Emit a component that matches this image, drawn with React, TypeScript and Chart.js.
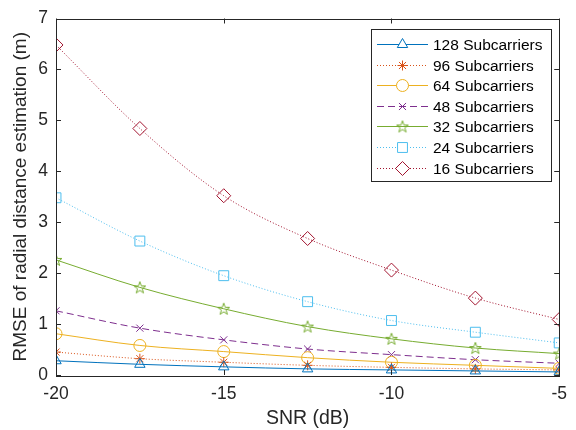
import React, { useEffect, useRef } from 'react';
import { Chart, registerables } from 'chart.js';
import { drawPoint } from 'chart.js/helpers';

Chart.register(...registerables);

const snr = [-20, -17.5, -15, -12.5, -10, -7.5, -5];
const sub128 = [0.28, 0.21, 0.16, 0.12, 0.10, 0.08, 0.06];
const sub96 = [0.45, 0.32, 0.25, 0.19, 0.15, 0.12, 0.10];
const sub64 = [0.81, 0.58, 0.46, 0.34, 0.25, 0.19, 0.13];
const sub48 = [1.26, 0.92, 0.69, 0.51, 0.40, 0.30, 0.23];
const sub32 = [2.26, 1.72, 1.30, 0.95, 0.71, 0.53, 0.42];
const sub24 = [3.48, 2.63, 1.95, 1.44, 1.07, 0.84, 0.63];
const sub16 = [6.48, 4.84, 3.52, 2.68, 2.06, 1.51, 1.09];
const seriesLabels = [
  '128 Subcarriers',
  '96 Subcarriers',
  '64 Subcarriers',
  '48 Subcarriers',
  '32 Subcarriers',
  '24 Subcarriers',
  '16 Subcarriers',
];
const xTicks = [-20, -15, -10, -5];
const yTicks = [0, 1, 2, 3, 4, 5, 6, 7];
const xTitle = 'SNR (dB)';
const yTitle = 'RMSE of radial distance estimation (m)';

const FONT = '"Liberation Sans", Arial, Helvetica, sans-serif';

function makePentagram(color: string, size: number) {
  const c = document.createElement('canvas');
  c.width = size;
  c.height = size;
  const ctx = c.getContext('2d')!;
  const cx = size / 2;
  const cy = size / 2 + 0.5;
  const R = size / 2 - 0.8;
  const r = R * 0.4;
  ctx.beginPath();
  for (let i = 0; i < 10; i++) {
    const rad = i % 2 === 0 ? R : r;
    const a = -Math.PI / 2 + (i * Math.PI) / 5;
    const px = cx + rad * Math.cos(a);
    const py = cy + rad * Math.sin(a);
    if (i === 0) ctx.moveTo(px, py);
    else ctx.lineTo(px, py);
  }
  ctx.closePath();
  ctx.strokeStyle = color;
  ctx.lineWidth = 1;
  ctx.stroke();
  return c;
}

export default function App() {
  const ref = useRef<HTMLCanvasElement | null>(null);

  useEffect(() => {
    if (!ref.current) return;
    const star = makePentagram('#77AC30', 14);
    const styles = [
      { color: '#0072BD', dash: [] as number[], point: 'triangle' as any, radius: 6 },
      { color: '#D95319', dash: [1, 2], point: 'star' as any, radius: 5 },
      { color: '#EDB120', dash: [], point: 'circle' as any, radius: 6 },
      { color: '#7E2F8E', dash: [7, 4], point: 'crossRot' as any, radius: 5 },
      { color: '#77AC30', dash: [], point: star as any, radius: 7 },
      { color: '#4DBEEE', dash: [1, 2], point: 'rect' as any, radius: 7 },
      { color: '#A2142F', dash: [1, 2], point: 'rectRot' as any, radius: 7 },
    ];
    const values = [sub128, sub96, sub64, sub48, sub32, sub24, sub16];
    const datasets = values.map((vals, i) => ({
      label: seriesLabels[i],
      data: snr.map((x, j) => ({ x, y: vals[j] })),
      borderColor: styles[i].color,
      backgroundColor: 'rgba(0,0,0,0)',
      borderWidth: 1,
      borderDash: styles[i].dash,
      pointStyle: styles[i].point,
      pointRadius: styles[i].radius,
      pointBorderColor: styles[i].color,
      pointBackgroundColor: 'rgba(0,0,0,0)',
      pointBorderWidth: 1,
      cubicInterpolationMode: 'monotone' as const,
      fill: false,
    }));

    const framePlugin = {
      id: 'frame',
      afterDraw(chart: any) {
        const ctx = chart.ctx;
        const { left, right, top, bottom } = chart.chartArea;
        const xs = chart.scales.x;
        const ys = chart.scales.y;
        ctx.save();
        ctx.strokeStyle = '#262626';
        ctx.lineWidth = 1;
        ctx.strokeRect(Math.round(left) + 0.5, Math.round(top) + 0.5, Math.round(right - left), Math.round(bottom - top));
        ctx.beginPath();
        xTicks.forEach((v) => {
          const px = Math.round(xs.getPixelForValue(v)) + 0.5;
          ctx.moveTo(px, bottom);
          ctx.lineTo(px, bottom - 5);
          ctx.moveTo(px, top);
          ctx.lineTo(px, top + 5);
        });
        yTicks.forEach((v) => {
          const py = Math.round(ys.getPixelForValue(v)) + 0.5;
          ctx.moveTo(left, py);
          ctx.lineTo(left + 5, py);
          ctx.moveTo(right, py);
          ctx.lineTo(right - 5, py);
        });
        ctx.stroke();

        // legend
        const bx = 371, by = 29, bw = 180, bh = 152;
        ctx.fillStyle = '#ffffff';
        ctx.fillRect(bx, by, bw, bh);
        ctx.strokeStyle = '#262626';
        ctx.strokeRect(bx + 0.5, by + 0.5, bw, bh);
        ctx.font = '15.5px ' + FONT;
        ctx.textBaseline = 'middle';
        ctx.textAlign = 'left';
        styles.forEach((s, i) => {
          const ry = Math.round(44 + i * 20.6) + 0.5;
          ctx.save();
          ctx.strokeStyle = s.color;
          ctx.lineWidth = 1;
          ctx.setLineDash(s.dash);
          ctx.beginPath();
          ctx.moveTo(377, ry);
          ctx.lineTo(428, ry);
          ctx.stroke();
          ctx.setLineDash([]);
          ctx.fillStyle = '#ffffff';
          ctx.strokeStyle = s.color;
          drawPoint(ctx, { pointStyle: s.point, radius: s.radius, borderWidth: 1, rotation: 0 } as any, 402.5, ry);
          ctx.restore();
          ctx.fillStyle = '#000000';
          ctx.fillText(seriesLabels[i], 433, ry + 1);
        });
        ctx.restore();
      },
    };

    const chart = new Chart(ref.current, {
      type: 'line',
      data: { datasets: datasets as any },
      options: {
        animation: false,
        responsive: false,
        layout: { padding: { top: 14, right: 7, left: 0, bottom: 0 } },
        plugins: { legend: { display: false }, tooltip: { enabled: false } },
        scales: {
          x: {
            type: 'linear',
            min: -20,
            max: -5,
            afterFit: (s: any) => { s.height = 55; },
            afterBuildTicks: (s: any) => { s.ticks = xTicks.map((v) => ({ value: v })); },
            grid: { display: false, drawOnChartArea: false, drawTicks: false },
            border: { display: false },
            ticks: { color: '#262626', font: { size: 17.5, family: FONT }, padding: 9, maxRotation: 0 },
            title: { display: true, text: xTitle, color: '#262626', font: { size: 19.5, family: FONT }, padding: { top: 0, bottom: 0 } },
          },
          y: {
            type: 'linear',
            min: 0,
            max: 7,
            afterFit: (s: any) => { s.width = 56; },
            afterBuildTicks: (s: any) => { s.ticks = yTicks.map((v) => ({ value: v })); },
            grid: { display: false, drawOnChartArea: false, drawTicks: false },
            border: { display: false },
            ticks: { color: '#262626', font: { size: 17.5, family: FONT }, padding: 8 },
            title: { display: true, text: yTitle, color: '#262626', font: { size: 19, family: FONT }, padding: { top: 9, bottom: 0 } },
          },
        },
      },
      plugins: [framePlugin],
    });
    return () => chart.destroy();
  }, []);

  return (
    <div style={{ position: 'fixed', left: 0, top: 0, width: 576, height: 430, background: '#fff' }}>
      <canvas ref={ref} width={576} height={430} style={{ width: 576, height: 430 }} />
    </div>
  );
}
